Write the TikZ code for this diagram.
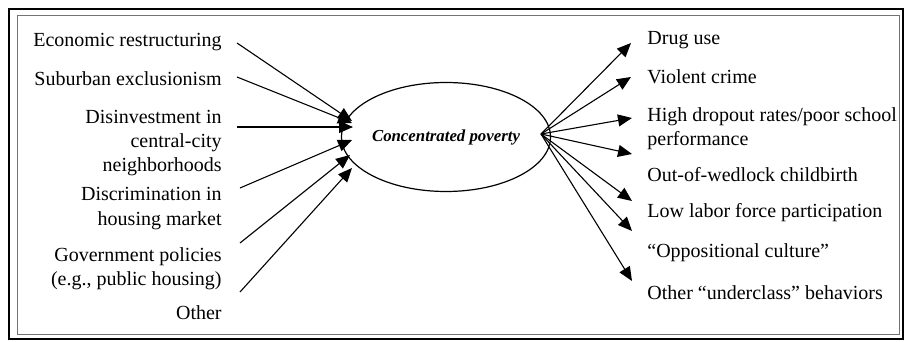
\documentclass[tikz,border=0pt]{standalone}
\usepackage{fontspec}
\setmainfont{Liberation Serif}
\usetikzlibrary{arrows.meta,shapes.geometric}
\tikzset{
  cause/.style ={anchor=east, align=right, inner sep=0pt, font=\fontsize{10}{12.2}\selectfont},
  effect/.style={anchor=west, align=left, inner sep=0pt, font=\fontsize{10}{12.2}\selectfont},
  core/.style  ={draw, ellipse, line width=0.6pt, minimum width=92.5pt, minimum height=54.5pt, inner sep=0pt,
                 font=\fontsize{8.4}{9}\selectfont\bfseries\itshape},
  push/.style  ={-{Triangle[length=7pt,width=6pt]}, line width=0.55pt}
}

\begin{document}
\begin{tikzpicture}[x=0.5pt, y=-0.5pt]
  \useasboundingbox (0,0) rectangle (906,342);
  % frame
  \draw[line width=1.4pt] (9,9) rectangle (903,339);
  \draw[line width=0.4pt, black!55] (17,15) rectangle (899,334);
  % centre
  \node[core] (cp) at (446,137) {Concentrated poverty};
  % causes
  \node[cause] (econ)    at (222,42)    {Economic restructuring};
  \node[cause] (suburb)  at (222,79)    {Suburban exclusionism};
  \node[cause] (disinv)  at (222,143)   {Disinvestment in\\central-city\\neighborhoods};
  \node[cause] (discrim) at (222,208.5) {Discrimination in\\housing market};
  \node[cause] (govt)    at (222,268.5) {Government policies\\(e.g., public housing)};
  \node[cause] (other)   at (222,313)   {Other};
  % effects
  \node[effect] (drug)    at (647,40)    {Drug use};
  \node[effect] (crime)   at (647,77)    {Violent crime};
  \node[effect] (dropout) at (647,128.5) {High dropout rates/poor school\\performance};
  \node[effect] (wedlock) at (647,175)   {Out-of-wedlock childbirth};
  \node[effect] (labor)   at (647,213)   {Low labor force participation};
  \node[effect] (oppos)   at (647,253)   {``Oppositional culture''};
  \node[effect] (under)   at (647,293)   {Other ``underclass'' behaviors};
  % arrow ends
  \coordinate (econ-t)    at (237,43);
  \coordinate (suburb-t)  at (237,77);
  \coordinate (disinv-t)  at (237,127);
  \coordinate (discrim-t) at (240,188);
  \coordinate (govt-t)    at (240,243);
  \coordinate (pub-t)     at (240,292);
  \coordinate (in-a) at (352,121);
  \coordinate (in-b) at (352,123);
  \coordinate (in-c) at (353,127);
  \coordinate (in-d) at (352,140);
  \coordinate (in-e) at (350,155);
  \coordinate (in-f) at (352,168);
  \coordinate (hub) at (541,134);
  \coordinate (out-a) at (631,43);
  \coordinate (out-b) at (631,77);
  \coordinate (out-c) at (632,118);
  \coordinate (out-d) at (632,154);
  \coordinate (out-e) at (632,201);
  \coordinate (out-f) at (632,231);
  \coordinate (out-g) at (632,281);
  % inward arrows
  \draw[push] (econ-t) -- (in-a);
  \draw[push] (suburb-t) -- (in-b);
  \draw[push] (disinv-t) -- (in-c);
  \draw[push] (discrim-t) -- (in-d);
  \draw[push] (govt-t) -- (in-e);
  \draw[push] (pub-t) -- (in-f);
  % outward arrows
  \draw[push] (hub) -- (out-a);
  \draw[push] (hub) -- (out-b);
  \draw[push] (hub) -- (out-c);
  \draw[push] (hub) -- (out-d);
  \draw[push] (hub) -- (out-e);
  \draw[push] (hub) -- (out-f);
  \draw[push] (hub) -- (out-g);
\end{tikzpicture}
\end{document}
